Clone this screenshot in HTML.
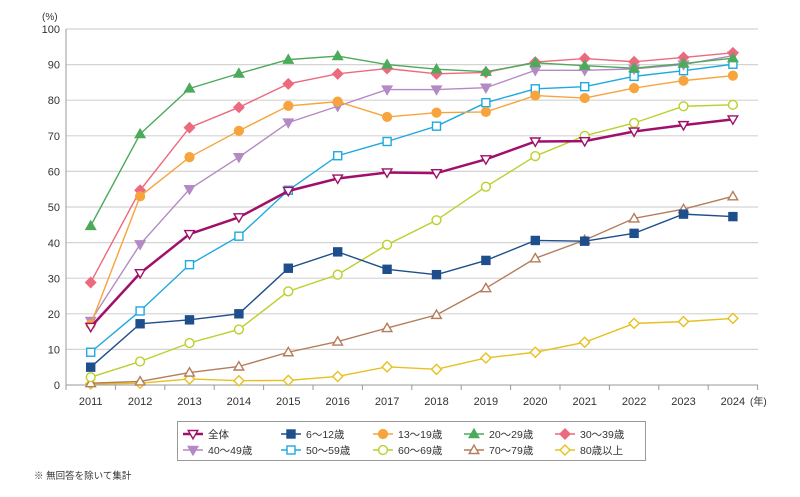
<!DOCTYPE html>
<html><head><meta charset="utf-8"><style>
body{margin:0;background:#fff;width:800px;height:492px;overflow:hidden;font-family:"Liberation Sans","Noto Sans CJK JP",sans-serif;}
svg text{font-family:"Liberation Sans","Noto Sans CJK JP",sans-serif;fill:#333;}
</style></head><body>
<svg id="s" width="800" height="492" viewBox="0 0 800 492" xmlns="http://www.w3.org/2000/svg">
<g font-size="11" text-anchor="end">
<text x="60" y="33">100</text><text x="60" y="68.5">90</text><text x="60" y="104">80</text><text x="60" y="140">70</text><text x="60" y="175.5">60</text><text x="60" y="211">50</text><text x="60" y="247">40</text><text x="60" y="282.5">30</text><text x="60" y="318">20</text><text x="60" y="353.5">10</text><text x="60" y="389">0</text>
</g>
<text x="42" y="20" font-size="10">(%)</text>
<g font-size="11" text-anchor="middle">
<text x="90.7" y="405">2011</text><text x="140.1" y="405">2012</text><text x="189.5" y="405">2013</text><text x="238.9" y="405">2014</text><text x="288.3" y="405">2015</text><text x="337.7" y="405">2016</text><text x="387.1" y="405">2017</text><text x="436.5" y="405">2018</text><text x="485.9" y="405">2019</text><text x="535.3" y="405">2020</text><text x="584.7" y="405">2021</text><text x="634.1" y="405">2022</text><text x="683.5" y="405">2023</text><text x="732.9" y="405">2024</text>
</g>
<text x="750" y="405" font-size="10">(年)</text>
<g id="grid"></g><g id="series"></g>
<rect x="177.5" y="421.5" width="468" height="39" fill="#fff" stroke="#999"/>
<g id="leg"></g>
<g font-size="10.5">
<text x="208" y="438">全体</text><text x="306" y="438">6～12歳</text><text x="398" y="438">13～19歳</text><text x="489" y="438">20～29歳</text><text x="580" y="438">30～39歳</text>
<text x="208" y="454">40～49歳</text><text x="306" y="454">50～59歳</text><text x="398" y="454">60～69歳</text><text x="489" y="454">70～79歳</text><text x="580" y="454">80歳以上</text>
</g>
<text x="34" y="479" font-size="9.5">※ 無回答を除いて集計</text>
</svg>
<script>
var NS="http://www.w3.org/2000/svg";
function el(p,t,a){var e=document.createElementNS(NS,t);for(var k in a)e.setAttribute(k,a[k]);p.appendChild(e);return e;}
var g=document.getElementById('grid'),S=document.getElementById('series'),L=document.getElementById('leg');
function Y(v){return 385-v*3.56;}function X(i){return 90.7+i*49.4;}
for(var v=10;v<=100;v+=10)el(g,'line',{x1:66,x2:758,y1:Y(v),y2:Y(v),stroke:'#d4d4d4','stroke-width':1.2});
el(g,'line',{x1:66,x2:66,y1:29,y2:385,stroke:'#999'});
el(g,'line',{x1:66,x2:758,y1:385,y2:385,stroke:'#999'});
for(var i=0;i<=14;i++)el(g,'line',{x1:66+i*49.4,x2:66+i*49.4,y1:385,y2:390,stroke:'#999'});
var D=[
['#e8c020','dia',0,[0.3,0.5,1.7,1.2,1.3,2.4,5.1,4.4,7.6,9.2,12.0,17.3,17.8,18.7]],
['#b57c5a','tri',0,[0.5,1.0,3.5,5.2,9.2,12.2,16.0,19.7,27.2,35.6,40.7,46.8,49.4,53.0]],
['#bccf2a','circ',0,[2.2,6.6,11.8,15.6,26.3,31.0,39.4,46.3,55.7,64.3,70.0,73.6,78.3,78.7]],
['#1ea9e0','sq',0,[9.2,20.8,33.8,41.8,54.7,64.4,68.4,72.7,79.3,83.2,83.8,86.7,88.3,90.1]],
['#b48ac4','tdn',1,[18,39.5,55,64,73.7,78.3,83.0,83.0,83.5,88.4,88.4,88.8,90.0,92.5]],
['#ec6a7e','dia',1,[28.8,54.7,72.3,78.0,84.6,87.4,88.9,87.4,87.8,90.7,91.7,90.8,92.0,93.3]],
['#4daa5b','tri',1,[44.7,70.5,83.3,87.5,91.4,92.4,90.0,88.7,88.0,90.5,89.7,89.0,90.3,91.8]],
['#f7a43c','circ',1,[17.0,53,64.0,71.4,78.4,79.6,75.3,76.5,76.7,81.3,80.6,83.4,85.5,86.9]],
['#1f4e8c','sq',1,[5,17.2,18.3,20.0,32.8,37.4,32.5,31.0,35.0,40.6,40.4,42.6,48.0,47.3]],
['#a0106a','tdn',0,[16.3,31.4,42.4,47.1,54.5,58.0,59.7,59.5,63.4,68.4,68.5,71.2,73.0,74.6]]];
function mk(p,x,y,c,t,f){var fill=f?c:'#fff',a={fill:fill,stroke:c,'stroke-width':1.4};
if(t=='dia'){a.points=[x,y-5,x+5,y,x,y+5,x-5,y].join(' ');el(p,'polygon',a);}
else if(t=='tri'){a.points=[x,y-4.8,x+4.8,y+3.5,x-4.8,y+3.5].join(' ');el(p,'polygon',a);}
else if(t=='tdn'){a.points=[x-4.8,y-3.5,x+4.8,y-3.5,x,y+4.8].join(' ');el(p,'polygon',a);}
else if(t=='circ'){a.cx=x;a.cy=y;a.r=4.4;el(p,'circle',a);}
else {a.x=x-4;a.y=y-4;a.width=8;a.height=8;el(p,'rect',a);}}
D.forEach(function(d){var pts=d[3].map(function(v,i){return X(i)+','+Y(v);}).join(' ');
el(S,'polyline',{points:pts,fill:'none',stroke:d[0],'stroke-width':d[0]=='#a0106a'?2.5:1.4});
d[3].forEach(function(v,i){mk(S,X(i),Y(v),d[0],d[1],d[2]);});});
var order=[9,8,7,6,5,4,3,2,1,0],cx=[193,291,383,474,565];
order.forEach(function(k,j){var d=D[k],x=cx[j%5],y=j<5?434:450;
el(L,'line',{x1:x-10,x2:x+10,y1:y,y2:y,stroke:d[0],'stroke-width':d[0]=='#a0106a'?2.5:1.5});mk(L,x,y,d[0],d[1],d[2]);});
</script>
</body></html>
